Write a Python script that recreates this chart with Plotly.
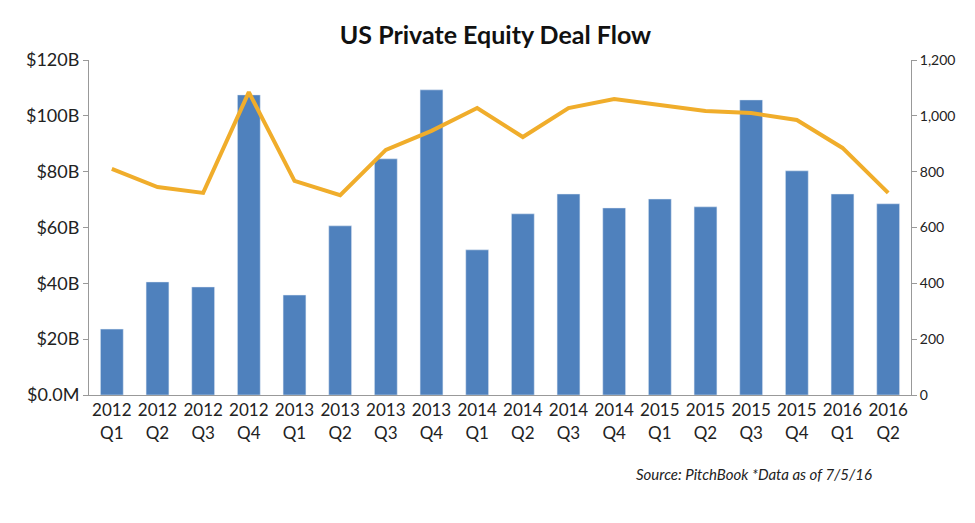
import plotly.graph_objects as go

categories = ["2012<br>Q1","2012<br>Q2","2012<br>Q3","2012<br>Q4","2013<br>Q1","2013<br>Q2","2013<br>Q3","2013<br>Q4",
              "2014<br>Q1","2014<br>Q2","2014<br>Q3","2014<br>Q4","2015<br>Q1","2015<br>Q2","2015<br>Q3","2015<br>Q4",
              "2016<br>Q1","2016<br>Q2"]
deal_value_b = [23.6,40.5,38.7,107.5,35.8,60.6,84.6,109.3,52,64.9,72,67,70.2,67.4,105.7,80.3,72,68.5]
deal_count = [810,745,724,1085,767,716,878,946,1028,924,1028,1060,1039,1017,1010,985,885,724]
left_ticks = [0,20,40,60,80,100,120]
left_labels = ["$0.0M","$20B","$40B","$60B","$80B","$100B","$120B"]
right_ticks = [0,200,400,600,800,1000,1200]
right_labels = ["0","200","400","600","800","1,000","1,200"]

fig = go.Figure()
fig.add_bar(x=categories, y=deal_value_b, marker_color="#4F81BD", width=0.5, name="Deal value")
fig.add_scatter(x=categories, y=deal_count, yaxis="y2", mode="lines",
                line=dict(color="#F0AD2B", width=4), name="Deal count")
fig.update_layout(
    width=975, height=523, showlegend=False, plot_bgcolor="white", paper_bgcolor="white",
    font=dict(family="Lato", size=17, color="#222"),
    title=dict(text="<b>US Private Equity Deal Flow</b>", x=0.5, xanchor="center", y=0.965,
               font=dict(size=25, color="#111")),
    margin=dict(l=81, r=72, t=52, b=136),
    xaxis=dict(showline=True, linecolor="#999", ticks="", tickfont=dict(size=17)),
    yaxis=dict(range=[0,120], tickvals=left_ticks, ticktext=left_labels, showgrid=False,
               showline=True, linecolor="#999", ticks="outside", ticklen=5, tickcolor="#999",
               tickfont=dict(size=18)),
    yaxis2=dict(range=[0,1200], tickvals=right_ticks, ticktext=right_labels, overlaying="y",
                side="right", showgrid=False, showline=True, linecolor="#999", ticks="outside",
                ticklen=5, tickcolor="#999", tickfont=dict(size=14)),
    annotations=[dict(text="<i>Source: PitchBook *Data as of 7/5/16</i>", xref="paper", yref="paper",
                      x=0.955, y=-0.27, xanchor="right", showarrow=False, font=dict(size=15))],
)
fig.write_html("out.html")
